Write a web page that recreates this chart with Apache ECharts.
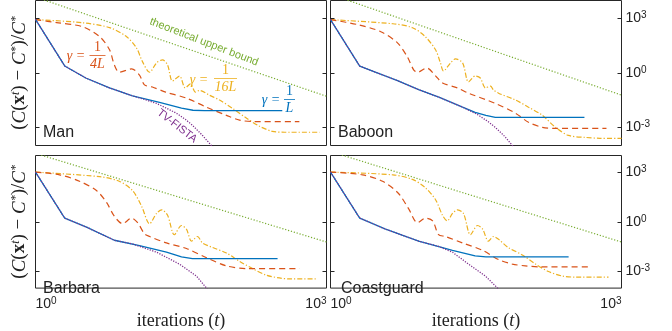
<!DOCTYPE html>
<html>
<head>
<meta charset="utf-8">
<script src="https://cdn.jsdelivr.net/npm/echarts@6/dist/echarts.min.js"></script>
<style>
  html, body { margin: 0; padding: 0; background: #fff; }
  #chart { width: 672px; height: 331px; }
</style>
</head>
<body>
<div id="chart"></div>
<script>
// tick positions
const xTicks = [1, 1000];
const yTicks = [1e-3, 1, 1e3];
const panelNames = ["Man", "Baboon", "Barbara", "Coastguard"];

// Man
const manBound = [[1, 1.55e4], [1000, 0.052]];
const manGamma16 = [[1, 880], [3, 600], [5.8, 320], [8.7, 100], [11, 24], [12.7, 4.1], [15, 1.1], [17.7, 3.6], [20.4, 5.3], [23, 2.8], [25.8, 0.36], [30.5, 0.68], [35, 0.15], [39.6, 0.25], [44.6, 0.088], [49, 0.11], [62, 0.06], [79, 0.032], [107, 0.0114], [150, 0.0032], [204, 0.00115], [277, 6e-4], [370, 5.4e-4], [850, 5.4e-4]];
const manGamma4 = [[1, 880], [1.65, 600], [3.05, 360], [4.6, 100], [5.8, 19], [6.5, 2.8], [7.3, 1.1], [9.8, 1.7], [11.8, 0.77], [13.3, 0.22], [16, 0.17], [22, 0.088], [36, 0.041], [58, 0.013], [93, 0.0046], [127, 0.0025], [180, 0.0021], [525, 0.0021]];
const manGamma1 = [[1, 900], [2, 2.45], [3.3, 0.53], [5.8, 0.15], [10, 0.055], [19, 0.024], [32, 0.0114], [42, 0.0088], [55, 0.0083], [350, 0.0083]];
const manFista = [[1, 900], [2, 2.45], [3.3, 0.53], [5.8, 0.15], [10, 0.055], [13, 0.036], [17.7, 0.021], [22, 0.012], [28.4, 0.006], [35, 0.0028], [41.5, 0.0013], [52.7, 3.6e-4], [65, 1e-4], [80, 2.5e-5]];

// Baboon
const baboonBound = [[1, 2.2e4], [1000, 0.06]];
const baboonGamma16 = [[1, 880], [4.4, 520], [7, 316], [9.5, 100], [12.1, 19], [13.6, 3.6], [14.6, 1.3], [17.3, 3.6], [19.4, 6], [23, 3.6], [26.5, 0.32], [31, 0.68], [35, 0.53], [39.6, 0.15], [44.6, 0.19], [48, 0.114], [54, 0.077], [81, 0.032], [110, 0.013], [153, 0.0046], [209, 0.001], [284, 3.6e-4], [426, 2.8e-4], [600, 2.5e-4], [1000, 2.45e-4]];
const baboonGamma4 = [[1, 880], [1.9, 470], [3.3, 190], [4.9, 46], [6.2, 7.7], [7.2, 1.5], [7.9, 1.1], [9.8, 1.9], [12.4, 0.6], [14.3, 0.28], [20.4, 0.15], [26.5, 0.077], [50, 0.021], [81, 0.006], [110, 0.0019], [153, 0.001], [204, 8.8e-4], [700, 8.8e-4]];
const baboonGamma1 = [[1, 880], [2, 2.4], [4.9, 0.38], [8.1, 0.12], [13.3, 0.045], [23, 0.013], [31, 0.0068], [40, 0.0046], [50, 0.0036], [415, 0.0036]];
const baboonFista = [[1, 880], [2, 2.4], [4.9, 0.38], [8.1, 0.12], [13.3, 0.045], [23, 0.013], [33, 0.005], [42, 0.0021], [50, 0.001], [62, 3.3e-4], [75, 1e-4], [90, 3e-5]];

// Barbara
const barbaraBound = [[1, 1.35e4], [1000, 0.06]];
const barbaraGamma16 = [[1, 1000], [4.6, 525], [7.3, 280], [10, 77], [12.4, 8.8], [15, 0.77], [17.7, 3.2], [20, 5.3], [23, 2.45], [27, 0.166], [32, 0.6], [36, 0.36], [40.6, 0.068], [46.8, 0.13], [52.7, 0.053], [67, 0.028], [93, 0.013], [127, 0.0041], [173, 0.0015], [240, 6e-4], [327, 4.1e-4], [415, 3.6e-4], [790, 3.6e-4]];
const barbaraGamma4 = [[1, 1000], [1.77, 680], [2.84, 280], [4.25, 77], [5.4, 14.7], [6.5, 2.15], [7.9, 0.77], [9.8, 1.67], [11.3, 0.88], [13.3, 0.19], [15, 0.13], [22.4, 0.053], [36, 0.0245], [58, 0.0068], [93, 0.0022], [150, 0.0015], [525, 0.0015]];
const barbaraGamma1 = [[1, 1000], [2, 1.67], [3.4, 0.46], [6.5, 0.077], [11.8, 0.036], [22.4, 0.0147], [32, 0.0077], [41.5, 0.006], [313, 0.006]];
const barbaraFista = [[1, 1000], [2, 1.67], [3.4, 0.46], [6.5, 0.077], [10, 0.046], [17.7, 0.0147], [30.5, 0.0028], [45.7, 5.3e-4], [59, 8.8e-5]];

// Coastguard
const coastBound = [[1, 1.75e4], [1000, 0.06]];
const coastGamma16 = [[1, 1000], [4.4, 680], [7, 360], [9.5, 114], [12.1, 21.5], [14.3, 2.45], [16, 1.14], [18.1, 3.2], [20.4, 5.3], [23.5, 3.2], [27.7, 0.166], [32.8, 0.6], [37, 0.36], [42.5, 0.068], [48, 0.13], [54, 0.088], [68, 0.028], [95, 0.01], [130, 0.0028], [177, 0.001], [246, 5.3e-4], [336, 4.6e-4], [735, 4.6e-4]];
const coastGamma4 = [[1, 1000], [2.14, 680], [3.44, 280], [5, 53], [6.4, 6], [7.9, 0.88], [9.5, 1.67], [11.3, 1.14], [13, 0.166], [15.3, 0.13], [23, 0.053], [37, 0.019], [54, 0.0053], [75, 0.0028], [102, 0.0022], [143, 0.0019], [480, 0.0019]];
const coastGamma1 = [[1, 1000], [2, 1.67], [3.7, 0.36], [8.1, 0.068], [18.1, 0.019], [31, 0.0088], [40, 0.0077], [285, 0.0077]];
const coastFista = [[1, 1000], [2, 1.67], [3.7, 0.36], [8.1, 0.068], [13, 0.033], [18.1, 0.0147], [26.5, 0.0028], [39.6, 5.3e-4], [54, 8.8e-5]];

const panels = [
  { bound: manBound, g16: manGamma16, g4: manGamma4, g1: manGamma1, fista: manFista },
  { bound: baboonBound, g16: baboonGamma16, g4: baboonGamma4, g1: baboonGamma1, fista: baboonFista },
  { bound: barbaraBound, g16: barbaraGamma16, g4: barbaraGamma4, g1: barbaraGamma1, fista: barbaraFista },
  { bound: coastBound, g16: coastGamma16, g4: coastGamma4, g1: coastGamma1, fista: coastFista },
];

const GREEN = "#77ac30", YELLOW = "#edb120", RED = "#d95319", BLUE = "#0072bd", PURPLE = "#7e2f8e";
const INK = "#222";
const SANS = "Liberation Sans";
const SERIF = "Liberation Serif";

const grids = [
  { left: 35.5, top: 0.5, width: 291, height: 145 },
  { left: 330.5, top: 0.5, width: 291, height: 145 },
  { left: 35.5, top: 155.5, width: 291, height: 145 },
  { left: 330.5, top: 155.5, width: 291, height: 145 },
];

const powRich = {
  b: { fontSize: 14, fontFamily: SANS, color: INK, lineHeight: 16 },
  s: { fontSize: 10, fontFamily: SANS, color: INK, lineHeight: 10, verticalAlign: "top" },
};
function powLabel(v) {
  const e = Math.round(Math.log10(v));
  return "{b|10}{s|" + e + "}";
}

const xAxes = grids.map((g, i) => ({
  gridIndex: i,
  type: "log",
  logBase: 10,
  min: 1,
  max: 1000,
  axisLine: { show: false },
  axisTick: { show: false },
  splitLine: { show: false },
  axisLabel: {
    show: i >= 2,
    customValues: xTicks,
    formatter: powLabel,
    rich: powRich,
    margin: 8,
    alignMinLabel: "left",
    alignMaxLabel: "right",
  },
  name: i >= 2 ? "iterations ({it|t})" : "",
  nameLocation: "middle",
  nameGap: 8,
  nameTextStyle: {
    fontFamily: SERIF,
    fontSize: 18,
    color: INK,
    rich: { it: { fontFamily: SERIF, fontSize: 18, fontStyle: "italic", color: INK } },
  },
}));

const yAxes = [];
grids.forEach((g, i) => {
  const common = {
    gridIndex: i,
    type: "log",
    logBase: 10,
    min: 1e-4,
    max: 1e4,
    axisLine: { show: false },
    splitLine: { show: false },
    axisTick: { inside: true, length: 4, customValues: yTicks, lineStyle: { color: "#262626" } },
  };
  yAxes.push(Object.assign({}, common, {
    position: "left",
    axisLabel: { show: false },
    name: i % 2 === 0 ? "({c|C}({x|x}{sup|t}) \u2212 {c|C}{sup|*})/{c|C}{sup|*}" : "",
    nameLocation: "middle",
    nameGap: 6,
    nameTextStyle: {
      fontFamily: SERIF,
      fontSize: 19,
      color: INK,
      lineHeight: 20,
      rich: {
        c: { fontFamily: SERIF, fontSize: 19, fontStyle: "italic", color: INK, lineHeight: 20 },
        x: { fontFamily: SERIF, fontSize: 19, fontWeight: "bold", color: INK, lineHeight: 20 },
        sup: { fontFamily: SERIF, fontSize: 12, fontStyle: "italic", color: INK, lineHeight: 12, verticalAlign: "top" },
      },
    },
  }));
  yAxes.push(Object.assign({}, common, {
    position: "right",
    axisLabel: {
      show: i % 2 === 1,
      customValues: yTicks,
      formatter: powLabel,
      rich: powRich,
      margin: 4,
    },
  }));
});

const series = [];
panels.forEach((p, i) => {
  const base = { type: "line", xAxisIndex: i, yAxisIndex: 2 * i, showSymbol: false, symbol: "none", silent: true };
  series.push(Object.assign({}, base, { data: p.bound, lineStyle: { color: GREEN, width: 1.2, type: [1.2, 1.8] } }));
  series.push(Object.assign({}, base, { data: p.g16, smooth: 0.3, lineStyle: { color: YELLOW, width: 1.2, type: [5, 2, 1.2, 2] } }));
  series.push(Object.assign({}, base, { data: p.g4, smooth: 0.3, lineStyle: { color: RED, width: 1.2, type: [6, 4] } }));
  series.push(Object.assign({}, base, { data: p.g1, lineStyle: { color: BLUE, width: 1.3 } }));
  series.push(Object.assign({}, base, { data: p.fista, lineStyle: { color: PURPLE, width: 1.3, type: [1.2, 1.4] } }));
});

// annotation helpers
function txt(x, y, text, font, fill, extra, align) {
  return Object.assign({
    type: "text", x: x, y: y, silent: true,
    style: { text: text, font: font, fill: fill, align: align || "center", verticalAlign: "middle" },
  }, extra || {});
}
function gammaLabel(gx, gy, cx, num, den, barW, ny, by, dy, color) {
  return [
    txt(gx, gy, "\u03b3 =", "italic 14px " + SERIF, color),
    txt(cx, ny, num, "14px " + SERIF, color),
    { type: "line", silent: true, shape: { x1: cx - barW / 2, y1: by, x2: cx + barW / 2, y2: by }, style: { stroke: color, lineWidth: 0.8 } },
    txt(cx, dy, den, "italic 14px " + SERIF, color),
  ];
}

const titleFont = "16px " + SANS;
const graphics = [
  txt(43, 132.5, panelNames[0], titleFont, INK, null, "left"),
  txt(338, 132.5, panelNames[1], titleFont, INK, null, "left"),
  txt(43, 288.5, panelNames[2], titleFont, INK, null, "left"),
  txt(341, 288.5, panelNames[3], titleFont, INK, null, "left"),
  txt(204, 42, "theoretical upper bound", "11px " + SANS, GREEN, { rotation: -0.37 }),
  txt(177, 126, "TV-FISTA", "11px " + SANS, PURPLE, { rotation: -0.66 }),
]
  .concat(gammaLabel(76, 56, 97.5, "1", "4L", 16, 47, 55.5, 64, RED))
  .concat(gammaLabel(199, 80, 225.5, "1", "16L", 23, 70.5, 78.5, 87, YELLOW))
  .concat(gammaLabel(271, 100, 289.5, "1", "L", 11, 91, 99.5, 108.5, BLUE));

const chart = echarts.init(document.getElementById("chart"));
chart.setOption({
  animation: false,
  backgroundColor: "#fff",
  grid: grids.map((g) => Object.assign({ show: true, borderColor: "#262626", borderWidth: 1, backgroundColor: "transparent" }, g)),
  xAxis: xAxes,
  yAxis: yAxes,
  series: series,
  graphic: graphics,
});
</script>
</body>
</html>
